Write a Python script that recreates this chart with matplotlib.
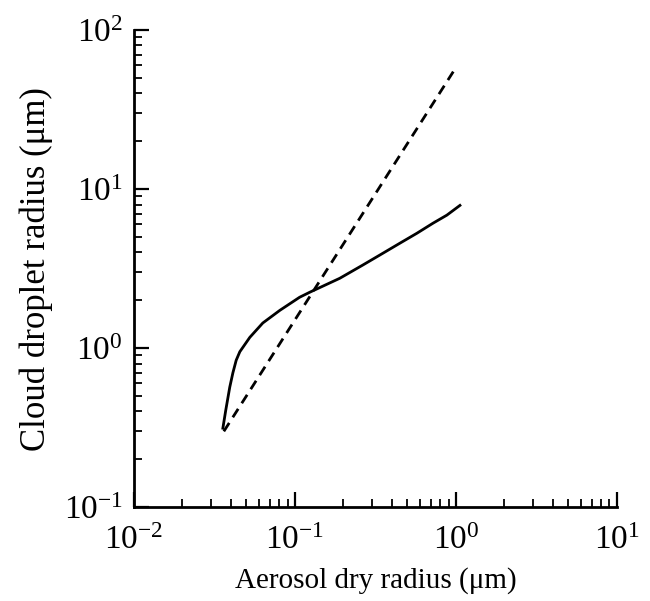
import numpy as np
import matplotlib
matplotlib.use("Agg")
import matplotlib.pyplot as plt

# values
solid_x = [0.0357, 0.0372, 0.0394, 0.0412, 0.0432, 0.0455, 0.0525, 0.0632, 0.0807, 0.107, 0.124,
           0.19, 0.264, 0.337, 0.449, 0.573, 0.72, 0.879, 1.06]
solid_y = [0.314, 0.407, 0.569, 0.70, 0.84, 0.95, 1.17, 1.44, 1.73, 2.09, 2.25,
           2.75, 3.33, 3.85, 4.57, 5.28, 6.1, 6.86, 7.9]
dash_x = [0.0362, 1.01]
dash_y = [0.30, 59.0]

plt.rcParams['font.family'] = ['Liberation Serif', 'DejaVu Serif']
plt.rcParams['mathtext.fontset'] = 'stix'

fig = plt.figure(figsize=(6.5, 6.01), dpi=100)
ax = fig.add_axes([0.206, 0.156, 0.743, 0.794])

ax.plot(solid_x, solid_y, color='black', lw=2)
ax.plot(dash_x, dash_y, color='black', lw=2, dashes=(3.6, 2.4))

ax.set_xscale('log')
ax.set_yscale('log')
ax.set_xlim(1e-2, 1e1)
ax.set_ylim(1e-1, 1e2)

for s in ['top', 'right']:
    ax.spines[s].set_visible(False)
for s in ['left', 'bottom']:
    ax.spines[s].set_linewidth(2)

ax.tick_params(which='major', direction='in', length=11, width=1.6, labelsize=24)
ax.tick_params(axis='x', which='major', pad=13)
ax.tick_params(axis='y', which='major', pad=8)
ax.tick_params(which='minor', direction='in', length=6, width=1.3)

ax.set_xlabel('Aerosol dry radius (\u03bcm)', fontsize=21, labelpad=8)
ax.set_ylabel('Cloud droplet radius (\u03bcm)', fontsize=25, labelpad=8)

fig.savefig('out.png', dpi=100)
